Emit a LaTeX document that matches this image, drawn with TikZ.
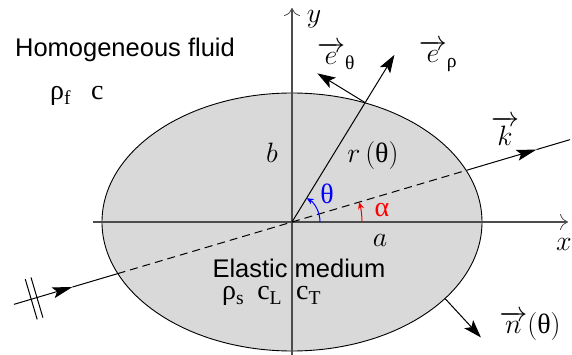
\RequirePackage{fix-cm}
\documentclass[tikz,border=0pt]{standalone}
\usepackage{amsmath}
\usepackage{fontspec}
\newfontfamily\sansfont{Liberation Sans}
\newfontfamily\grkfont{Liberation Serif}
\usetikzlibrary{arrows.meta, calc}
\newcommand{\gk}[1]{\text{\grkfont #1}}
\tikzset{
  axis/.style={draw=black!70, line width=1.4pt, -{To[length=8pt,width=16pt,line width=0.8pt]}},
  body/.style={draw=black, line width=0.9pt, fill=gray!30},
  vecarrow/.style={line width=1pt, -{Stealth[length=18pt,width=12pt,inset=4pt]}},
  wave/.style={line width=1pt},
  wavearrow/.style={line width=1pt, -{Stealth[length=20pt,width=11pt,inset=4pt]}},
  anglearrow/.style={line width=1pt, -{Stealth[length=7pt,width=6pt]}},
  mathlabel/.style={font=\fontsize{28}{32}\selectfont, inner sep=0pt},
  grklabel/.style={font=\grkfont\fontsize{28}{32}\selectfont, inner sep=0pt},
  medium/.style={font=\sansfont\fontsize{25.5}{30}\selectfont, inner sep=0pt}
}
\begin{document}
\begin{tikzpicture}[x=1pt, y=1pt]
  \useasboundingbox (-292,-133) rectangle (280,222);
  \coordinate (O) at (0,0);

  % elastic body
  \draw[body] (O) ellipse [x radius=190, y radius=129];

  % axes
  \coordinate (xstart) at (-199,0);
  \coordinate (xend) at (276,0);
  \coordinate (ystart) at (0,-133);
  \coordinate (yend) at (0,214);
  \draw[axis] (xstart) -- (xend);
  \draw[axis] (ystart) -- (yend);

  % incident wave along angle alpha
  \coordinate (W0) at (196.5:290);
  \coordinate (Wa) at (196.5:229);
  \coordinate (Win) at (196.5:182);
  \coordinate (Wout) at (16.5:182);
  \coordinate (Wb) at (16.5:255);
  \coordinate (W1) at (16.5:290);
  \draw[wavearrow] (W0) -- (Wa);
  \draw[wave] (Wa) -- (Win);
  \draw[wave, dash pattern=on 8pt off 5pt] (Win) -- (Wout);
  \draw[wavearrow] (Wout) -- (Wb);
  \draw[wave] (Wb) -- (W1);
  \coordinate (S1) at (196.5:272);
  \coordinate (S2) at (196.5:266);
  \draw[wave] ($(S1)+(106.5:21)$) -- ($(S1)+(-73.5:21)$);
  \draw[wave] ($(S2)+(106.5:21)$) -- ($(S2)+(-73.5:21)$);

  % radius and local basis
  \coordinate (P) at (58.5:140);
  \coordinate (Erho) at (58.5:196);
  \coordinate (Etheta) at ($(P)+(148.5:56)$);
  \draw[vecarrow] (O) -- (Erho);
  \draw[vecarrow] (P) -- (Etheta);

  % normal
  \coordinate (Q) at (153,-76.5);
  \coordinate (N) at ($(Q)+(-47.3:53)$);
  \draw[vecarrow] (Q) -- (N);

  % angles
  \draw[anglearrow, blue] (28,0) arc[start angle=0, end angle=58.5, radius=28];
  \draw[anglearrow, red] (70,0) arc[start angle=0, end angle=16.5, radius=70];

  % labels
  \node[mathlabel] (xlab) at (272,-22) {$x$};
  \node[mathlabel] (ylab) at (22,203) {$y$};
  \node[mathlabel] (alab) at (88,-18) {$a$};
  \node[mathlabel] (blab) at (-20,69) {$b$};
  \node[mathlabel] (rlab) at (81,66) {$r\,(\gk{θ})$};
  \node[grklabel, text=blue] (thetalab) at (35,28) {θ};
  \node[grklabel, text=red] (alphalab) at (90,12) {α};
  \node[mathlabel] (ethetalab) at (44,166) {$\overrightarrow{\,e\,}_{\gk{θ}}$};
  \node[mathlabel] (erholab) at (146,166) {$\overrightarrow{\,e\,}_{\gk{ρ}}$};
  \node[mathlabel] (klab) at (213,91) {$\overrightarrow{\,k\,}$};
  \node[mathlabel] (nlab) at (238,-104) {$\overrightarrow{\,n\,}(\gk{θ})$};

  \node[medium] (fluid) at (-167,172) {Homogeneous fluid};
  \node[grklabel, anchor=base west] (fluidpar) at (-242,122) {ρ\textsubscript{f}\hspace{20pt}c};
  \node[medium] (solid) at (7,-46) {Elastic medium};
  \node[grklabel, anchor=base west] (solidpar) at (-70,-78) {ρ\textsubscript{s}\hspace{13pt}c\textsubscript{L}\hspace{14pt}c\textsubscript{T}};
\end{tikzpicture}
\end{document}
